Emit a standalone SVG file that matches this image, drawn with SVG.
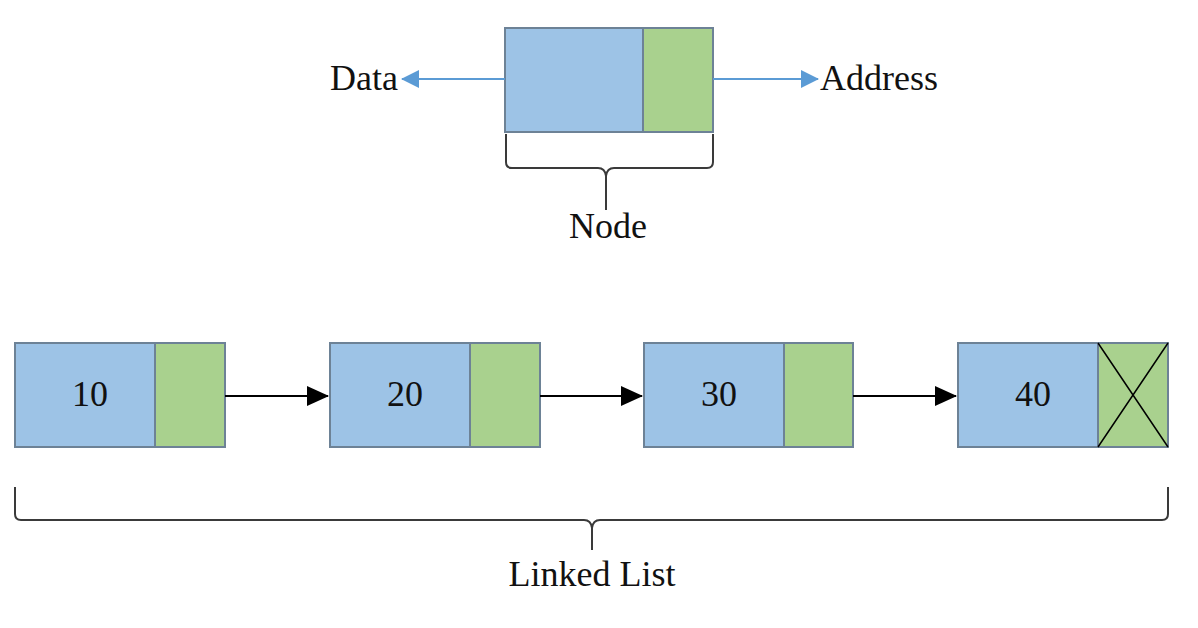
<svg xmlns="http://www.w3.org/2000/svg" width="1198" height="628" viewBox="0 0 1198 628">
<style>
.d{fill:#9dc3e6;stroke:#6d8296;stroke-width:2}
.p{fill:#a9d18e;stroke:#6d8296;stroke-width:2}
.t{font-family:"Liberation Serif","Times New Roman",serif;font-size:36px;fill:#111;text-anchor:middle}
.c{stroke:#000;stroke-width:2;fill:none}
.b{stroke:#3a3a3a;stroke-width:2;fill:none}
</style>
<defs>
<marker id="ab" markerWidth="18" markerHeight="18" refX="17" refY="9" orient="auto" markerUnits="userSpaceOnUse"><path d="M0,0L18,9L0,18z" fill="#5b9bd5"/></marker>
<marker id="ak" markerWidth="22" markerHeight="20" refX="21" refY="10" orient="auto" markerUnits="userSpaceOnUse"><path d="M0,0L22,10L0,20z" fill="#000"/></marker>
</defs>
<rect width="1198" height="628" fill="#fff"/>
<g id="node">
<rect class="d" x="505" y="28" width="138" height="104"/>
<rect class="p" x="643" y="28" width="70" height="104"/>
</g>
<g id="data"><text class="t" x="398" y="90" style="text-anchor:end">Data</text></g>
<g id="address"><text class="t" x="820" y="90" style="text-anchor:start">Address</text></g>
<g id="nodelabel"><text class="t" x="608" y="238">Node</text></g>
<g id="n10"><rect class="d" x="15" y="343" width="140" height="104"/><rect class="p" x="155" y="343" width="70" height="104"/><text class="t" x="90" y="406">10</text></g>
<g id="n20"><rect class="d" x="330" y="343" width="140" height="104"/><rect class="p" x="470" y="343" width="70" height="104"/><text class="t" x="405" y="406">20</text></g>
<g id="n30"><rect class="d" x="644" y="343" width="140" height="104"/><rect class="p" x="784" y="343" width="69" height="104"/><text class="t" x="719" y="406">30</text></g>
<g id="n40"><rect class="d" x="958" y="343" width="140" height="104"/><rect class="p" x="1098" y="343" width="70" height="104"/><path d="M1098,343L1168,447M1168,343L1098,447" stroke="#000" stroke-width="1.5"/><text class="t" x="1033" y="406">40</text></g>
<g id="linkedlist"><text class="t" x="592" y="586">Linked List</text></g>
<g id="connectors">
<path d="M505,79H402" stroke="#5b9bd5" stroke-width="2" marker-end="url(#ab)"/>
<path d="M713,79H818" stroke="#5b9bd5" stroke-width="2" marker-end="url(#ab)"/>
<path class="b" d="M506,134V162Q506,168 512,168H598Q605,168 606,176V210M713,134V162Q713,168 707,168H614Q607,168 606,176"/>
<path class="b" d="M15,487V514Q15,520 21,520H584Q591,520 592,528V550M1168,487V514Q1168,520 1162,520H600Q593,520 592,528"/>
<path class="c" d="M225,396H328" marker-end="url(#ak)"/>
<path class="c" d="M540,396H642" marker-end="url(#ak)"/>
<path class="c" d="M853,396H956" marker-end="url(#ak)"/>
</g>
</svg>
